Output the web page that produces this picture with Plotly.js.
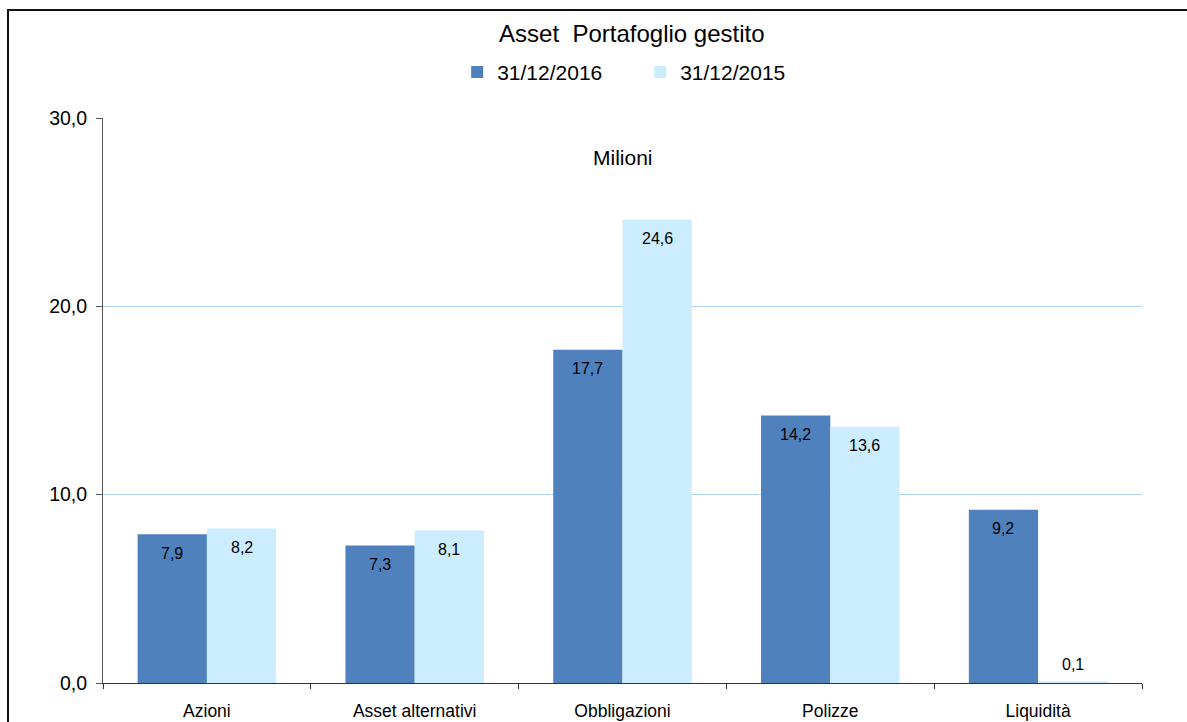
<!DOCTYPE html>
<html>
<head>
<meta charset="utf-8">
<script src="https://cdn.plot.ly/plotly-3.0.1.min.js"></script>
<style>
html,body{margin:0;padding:0;background:#fff;}
#chart{width:1187px;height:722px;}
</style>
</head>
<body>
<div id="chart"></div>
<script>
const categories = ["Azioni", "Asset alternativi", "Obbligazioni", "Polizze", "Liquidità"];
const series2016 = [7.9, 7.3, 17.7, 14.2, 9.2];
const series2015 = [8.2, 8.1, 24.6, 13.6, 0.1];
const seriesNames = ["31/12/2016", "31/12/2015"];
const seriesColors = ["#4F81BD", "#CCECFF"];
const yTicks = [0, 10, 20, 30];

const FONT = "Liberation Sans, Arial, sans-serif";
const fmt = v => v.toFixed(1).replace(".", ",");

const traces = [series2016, series2015].map((vals, i) => ({
  type: "bar",
  name: seriesNames[i],
  x: categories,
  y: vals,
  marker: {color: seriesColors[i], line: {width: 0}},
  hoverinfo: "none"
}));

// bar-label annotations driven by data values
const annotations = [];
const halfBarPx = 1039 / 5 / 6; // half of one bar in px (2 bars, bargap 1/3)
[series2016, series2015].forEach((vals, i) => {
  vals.forEach((v, j) => {
    const small = v < 1;
    annotations.push({
      x: categories[j], y: v, xref: "x", yref: "y",
      text: fmt(v), showarrow: false,
      xshift: (i === 0 ? -1 : 1) * halfBarPx,
      yshift: small ? 17 : -19,
      yanchor: "middle",
      font: {family: FONT, size: 16, color: "#000"}
    });
  });
});
annotations.push({
  x: 0.5, y: 27.9, xref: "paper", yref: "y", text: "Milioni", showarrow: false,
  yanchor: "middle", font: {family: FONT, size: 21, color: "#000"}
});

const layout = {
  width: 1187, height: 722,
  margin: {l: 103, r: 45, t: 118, b: 39},
  paper_bgcolor: "#fff", plot_bgcolor: "#fff",
  separators: ", ",
  font: {family: FONT, color: "#000"},
  title: {
    text: "Asset\u00a0 Portafoglio gestito",
    font: {family: FONT, size: 24, color: "#000"},
    x: 0.509, xanchor: "center", y: 0.954, yanchor: "middle", xref: "paper", yref: "container"
  },
  barmode: "group",
  bargap: 1/3,
  bargroupgap: 0,
  showlegend: true,
  legend: {
    orientation: "h", x: 0.517, xanchor: "center", y: 1.081, yanchor: "middle",
    font: {family: FONT, size: 21, color: "#000"},
    entrywidth: 138, entrywidthmode: "pixels",
    itemclick: false, itemdoubleclick: false
  },
  xaxis: {
    type: "category",
    showline: true, linecolor: "#333", linewidth: 1,
    ticks: "outside", tickson: "boundaries", ticklen: 5, tickcolor: "#333",
    showgrid: false,
    tickfont: {family: FONT, size: 17.5, color: "#000"},
    ticklabelstandoff: 12,
    fixedrange: true
  },
  yaxis: {
    range: [0, 30], tickvals: yTicks, tickformat: ".1f",
    showline: true, linecolor: "#555", linewidth: 1,
    ticks: "outside", ticklen: 6, tickcolor: "#555",
    showgrid: true, gridcolor: "#ADD4F8", gridwidth: 1,
    zeroline: false,
    tickfont: {family: FONT, size: 19.5, color: "#000"},
    ticklabelstandoff: 5,
    fixedrange: true
  },
  annotations: annotations,
  shapes: [{
    type: "rect", xref: "paper", yref: "paper",
    x0: (8 - 103) / 1039, x1: 1.2,
    y0: -0.2, y1: (683 - 10) / 565,
    line: {color: "#111", width: 2}, fillcolor: "rgba(0,0,0,0)"
  }]
};

Plotly.newPlot("chart", traces, layout, {displayModeBar: false, staticPlot: true});
</script>
</body>
</html>
